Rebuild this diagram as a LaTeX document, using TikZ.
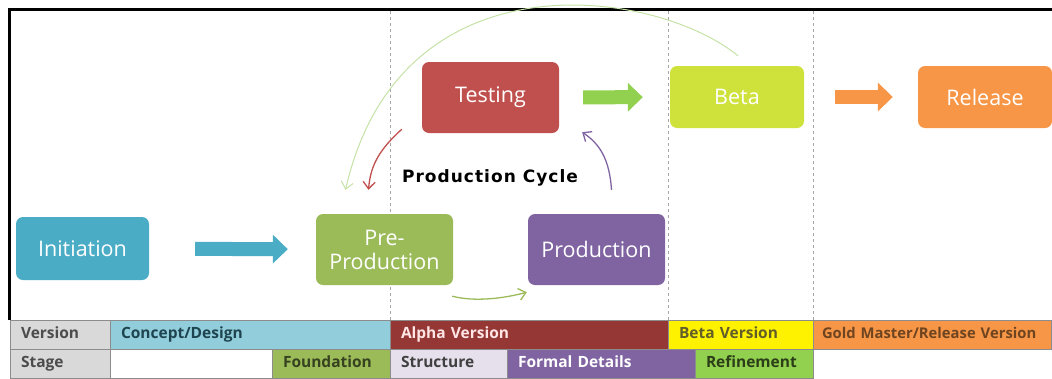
\documentclass[tikz,border=0pt]{standalone}
\usepackage{fontspec}
\setmainfont{Open Sans}
\newfontfamily\cyclefont[LetterSpace=6]{DejaVu Sans}
\usetikzlibrary{arrows.meta}

\definecolor{initblue}{HTML}{4BACC6}
\definecolor{pregreen}{HTML}{9BBB59}
\definecolor{prodpurple}{HTML}{8064A2}
\definecolor{testred}{HTML}{C0504D}
\definecolor{betalime}{HTML}{CFE23C}
\definecolor{relorange}{HTML}{F79646}
\definecolor{brightgreen}{HTML}{92D050}
\definecolor{palegreen}{HTML}{C4E2A6}
\definecolor{conceptblue}{HTML}{92CDDC}
\definecolor{alphared}{HTML}{953735}
\definecolor{lavender}{HTML}{E6E0EC}
\definecolor{cellgray}{HTML}{D9D9D9}
\definecolor{cellline}{HTML}{8C8C8C}

\begin{document}
\begin{tikzpicture}[x=1pt, y=-1pt,
    phase/.style={rounded corners=7pt, text=white, align=center,
        font=\fontsize{21.5}{24}\selectfont},
    bigarrow/.style={line width=14pt, -{Triangle[length=15pt,width=28pt]}},
    loop/.style={line width=1.3pt, -{Straight Barb[length=7pt,width=12pt]}},
    divider/.style={dashed, gray!70, line width=0.8pt},
    cell/.style={draw=cellline, line width=0.8pt, anchor=north west,
        minimum height=29pt, inner xsep=11pt, inner ysep=0pt, outer sep=0pt,
        text height=11pt, text depth=3pt, align=left,
        font=\fontsize{15.5}{17}\selectfont\bfseries}]
    \useasboundingbox (0,0) rectangle (1052,378);

    % frame and phase dividers
    \draw[line width=3pt] (9,320) -- (9,9) -- (1052,9);
    \draw[divider] (390,11) -- (390,320);
    \draw[divider] (668,11) -- (668,320);
    \draw[divider] (813,11) -- (813,320);

    \node[phase, fill=initblue, minimum width=133pt, minimum height=63pt] (init) at (82.5,248.5) {Initiation};
    \node[phase, fill=pregreen, minimum width=137pt, minimum height=71pt] (pre) at (384.5,249.5) {Pre-\\Production};
    \node[phase, fill=prodpurple, minimum width=137pt, minimum height=71pt] (prod) at (596.5,249.5) {Production};
    \node[phase, fill=testred, minimum width=137pt, minimum height=71pt] (test) at (490.5,97.5) {Testing};
    \node[phase, fill=betalime, minimum width=134pt, minimum height=62pt] (beta) at (737,97) {Beta};
    \node[phase, fill=relorange, minimum width=134pt, minimum height=62pt] (release) at (985,97) {Release};
    \node[font=\cyclefont\bfseries\fontsize{17}{19}\selectfont] (cycle) at (490,178) {Production Cycle};

    \draw[bigarrow, initblue, shorten <=46pt, shorten >=28pt] (init) -- (pre);
    \draw[bigarrow, brightgreen, shorten <=24pt, shorten >=27pt] (test) -- (beta);
    \draw[bigarrow, relorange, shorten <=31pt, shorten >=25pt] (beta) -- (release);

    \draw[loop, testred] ([xshift=-20pt,yshift=4pt]test.south west)
        .. controls +(-22,20) and +(2,-25) .. ([xshift=-16pt,yshift=24pt]pre.north);
    \draw[loop, prodpurple] ([xshift=15pt,yshift=24pt]prod.north)
        .. controls +(-2,-30) and +(18,12) .. ([xshift=23pt,yshift=1pt]test.south east);
    \draw[loop, pregreen] ([xshift=-1pt,yshift=-11pt]pre.south east)
        .. controls +(23,6) and +(-22,6) .. ([xshift=-1pt,yshift=-7pt]prod.south west);
    \draw[loop, palegreen, line width=1pt] ([xshift=1pt,yshift=10pt]beta.north)
        .. controls (655,-12) and (400,-48) .. ([xshift=-39pt,yshift=24pt]pre.north);

    % version / stage table
    \node[cell, fill=cellgray, text=black!70, text width=78pt] (verlab) at (10,320) {Version};
    \node[cell, fill=conceptblue, text=initblue!40!black, text width=258pt] (concept) at (110,320) {Concept/Design};
    \node[cell, fill=alphared, text=white!90!red, text width=256pt] (alpha) at (390,320) {Alpha Version};
    \node[cell, fill=yellow, text=olive!60!black, text width=123pt] (betaver) at (668,320) {Beta Version};
    \node[cell, fill=relorange, text=relorange!45!black, inner xsep=9pt, text width=220pt,
        font=\fontsize{14.8}{17}\selectfont\bfseries] (gold) at (813,320) {\mbox{Gold Master/Release Version}};

    \node[cell, fill=cellgray, text=black!70, text width=78pt] (stagelab) at (10,349) {Stage};
    \node[cell, fill=white, text width=140pt] (blank) at (110,349) {};
    \node[cell, fill=pregreen, text=pregreen!35!black, text width=96pt] (found) at (272,349) {Foundation};
    \node[cell, fill=lavender, text=black!75, text width=95pt] (struct) at (390,349) {Structure};
    \node[cell, fill=prodpurple, text=white, text width=166pt] (formal) at (507,349) {Formal Details};
    \node[cell, fill=brightgreen, text=brightgreen!30!black, text width=96pt] (refine) at (695,349) {Refinement};
\end{tikzpicture}
\end{document}
